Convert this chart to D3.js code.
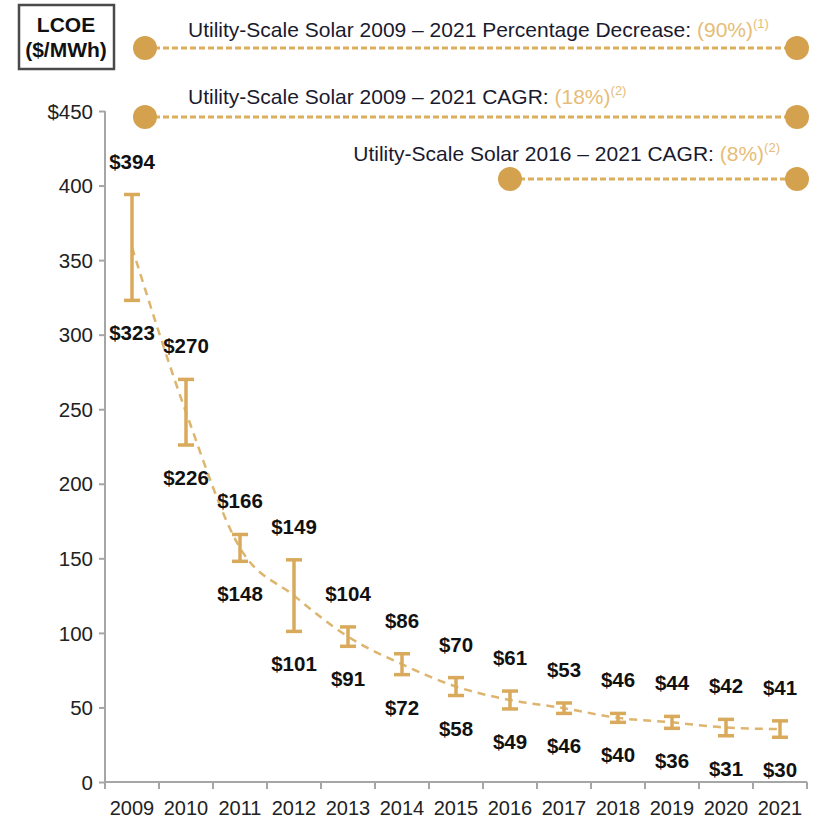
<!DOCTYPE html>
<html>
<head>
<meta charset="utf-8">
<script src="https://cdn.jsdelivr.net/npm/d3@7"></script>
<style>
  body { margin: 0; background: #fff; }
  text { font-family: "Liberation Sans Narrow", "Arial Narrow", "Liberation Sans", Arial, sans-serif; }
</style>
</head>
<body>
<div id="chart"></div>
<script>
// Data
const years = ["2009", "2010", "2011", "2012", "2013", "2014", "2015", "2016", "2017", "2018", "2019", "2020", "2021"];
const highValues = [394, 270, 166, 149, 104, 86, 70, 61, 53, 46, 44, 42, 41];
const lowValues = [323, 226, 148, 101, 91, 72, 58, 49, 46, 40, 36, 31, 30];
const yTicks = [0, 50, 100, 150, 200, 250, 300, 350, 400, 450];

// header annotations
const noteLabels = [
  "Utility-Scale Solar 2009 \u2013 2021 Percentage Decrease: ",
  "Utility-Scale Solar 2009 \u2013 2021 CAGR: ",
  "Utility-Scale Solar 2016 \u2013 2021 CAGR: "
];
const noteValues = ["(90%)", "(18%)", "(8%)"];
const noteRefs = ["(1)", "(2)", "(2)"];
const noteStart = ["2009", "2009", "2016"];
const noteEnd = ["2021", "2021", "2021"];

const WIDTH = 821;
const HEIGHT = 825;
const margin = { top: 111, right: 14, bottom: 43, left: 105 };
const width = WIDTH - margin.left - margin.right;
const height = HEIGHT - margin.top - margin.bottom;

const axisColor = "#a6a6a6";

const svg = d3
  .select("#chart")
  .append("svg")
  .attr("width", WIDTH)
  .attr("height", HEIGHT);

const g = svg.append("g").attr("transform", `translate(${margin.left}, ${margin.top})`);

const x = d3.scaleBand().domain(years).range([0, 702]);
const xc = d => x(d) + x.bandwidth() / 2;

const y = d3.scaleLinear().domain([0, 450]).range([height, 0]);

// y axis
const yAxis = g
  .append("g")
  .call(d3.axisLeft(y).tickValues(yTicks).tickSize(6).tickPadding(6).tickFormat(d => (d === 450 ? "$450" : d)));
yAxis.select(".domain").attr("stroke", axisColor).attr("stroke-width", 2).attr("d", `M0,0V${height}`);
yAxis.selectAll(".tick line").attr("stroke", axisColor).attr("stroke-width", 2);
yAxis.selectAll(".tick text").attr("font-size", 20.5).attr("fill", "#222").attr("dy", "0.35em")
  .style("font-family", "'Liberation Sans', Arial, sans-serif");

// x axis, ticks on band boundaries
const xAxis = g.append("g").attr("transform", `translate(0, ${height})`);
xAxis.append("line").attr("x1", 0).attr("x2", x.range()[1]).attr("stroke", axisColor).attr("stroke-width", 2);
xAxis
  .selectAll("line.tk")
  .data(years.concat(["end"]))
  .join("line")
  .attr("class", "tk")
  .attr("x1", (d, i) => i * x.bandwidth())
  .attr("x2", (d, i) => i * x.bandwidth())
  .attr("y1", 0)
  .attr("y2", 7)
  .attr("stroke", axisColor)
  .attr("stroke-width", 2);
xAxis
  .selectAll("text")
  .data(years)
  .join("text")
  .attr("x", d => xc(d))
  .attr("y", 33)
  .attr("text-anchor", "middle")
  .attr("font-size", 20)
  .attr("fill", "#222")
  .text(d => d);

// dashed trend through midpoints
const mids = years.map((d, i) => [xc(d), y((highValues[i] + lowValues[i]) / 2)]);
g.append("path")
  .attr("d", d3.line().curve(d3.curveMonotoneX)(mids))
  .attr("fill", "none")
  .attr("stroke", "#ddb56e")
  .attr("stroke-width", 2.5)
  .attr("stroke-dasharray", "8,6");

// range bars
const capW = 8;
const bars = g.selectAll("g.bar").data(years).join("g").attr("class", "bar");
bars.append("line")
  .attr("x1", d => xc(d)).attr("x2", d => xc(d))
  .attr("y1", (d, i) => y(highValues[i])).attr("y2", (d, i) => y(lowValues[i]))
  .attr("stroke", "#d9aa5c").attr("stroke-width", 3.5);
bars.append("line")
  .attr("x1", d => xc(d) - capW).attr("x2", d => xc(d) + capW)
  .attr("y1", (d, i) => y(highValues[i])).attr("y2", (d, i) => y(highValues[i]))
  .attr("stroke", "#d9aa5c").attr("stroke-width", 3.5);
bars.append("line")
  .attr("x1", d => xc(d) - capW).attr("x2", d => xc(d) + capW)
  .attr("y1", (d, i) => y(lowValues[i])).attr("y2", (d, i) => y(lowValues[i]))
  .attr("stroke", "#d9aa5c").attr("stroke-width", 3.5);

// value labels
bars.append("text")
  .attr("x", d => xc(d))
  .attr("y", (d, i) => y(highValues[i]) - 26)
  .attr("text-anchor", "middle")
  .attr("font-size", 20.5)
  .attr("font-weight", "bold")
  .attr("fill", "#111")
  .style("font-family", "'Liberation Sans', Arial, sans-serif")
  .text((d, i) => "$" + highValues[i]);
bars.append("text")
  .attr("x", d => xc(d))
  .attr("y", (d, i) => y(lowValues[i]) + 40)
  .attr("text-anchor", "middle")
  .attr("font-size", 20.5)
  .attr("font-weight", "bold")
  .attr("fill", "#111")
  .style("font-family", "'Liberation Sans', Arial, sans-serif")
  .text((d, i) => "$" + lowValues[i]);

// header annotations
const rowY = [48, 117, 179];
const textY = [37, 104, 161];
noteLabels.forEach((label, i) => {
  const x1 = margin.left + (noteStart[i] === years[0] ? 40 : xc(noteStart[i]));
  const x2 = margin.left + xc(noteEnd[i]) + 17;
  svg.append("line")
    .attr("x1", x1).attr("x2", x2)
    .attr("y1", rowY[i]).attr("y2", rowY[i])
    .attr("stroke", "#dcae5e").attr("stroke-width", 3)
    .attr("stroke-dasharray", "6,3");
  svg.selectAll(null).data([x1, x2]).join("circle")
    .attr("cx", d => d).attr("cy", rowY[i]).attr("r", 12)
    .attr("fill", "#d4a24e");

  const t = svg.append("text")
    .attr("y", textY[i])
    .attr("font-size", 21)
    .attr("fill", "#1a1a2e");
  t.append("tspan").text(label);
  t.append("tspan").attr("fill", "#e6bd78").text(noteValues[i]);
  t.append("tspan").attr("fill", "#e6bd78").attr("font-size", 13).attr("dy", -9).text(noteRefs[i]);
  if (i < 2) t.attr("x", 188);
  else t.attr("x", 780).attr("text-anchor", "end");
});

// LCOE box
svg.append("rect")
  .attr("x", 19).attr("y", 5).attr("width", 95).attr("height", 64)
  .attr("fill", "#fff").attr("stroke", "#4a4a4a").attr("stroke-width", 2.5);
svg.append("text").attr("x", 66).attr("y", 32).attr("text-anchor", "middle")
  .attr("font-size", 21).attr("font-weight", "bold").attr("fill", "#111").text("LCOE");
svg.append("text").attr("x", 66).attr("y", 57).attr("text-anchor", "middle")
  .attr("font-size", 21).attr("font-weight", "bold").attr("fill", "#111").text("($/MWh)");
</script>
</body>
</html>
